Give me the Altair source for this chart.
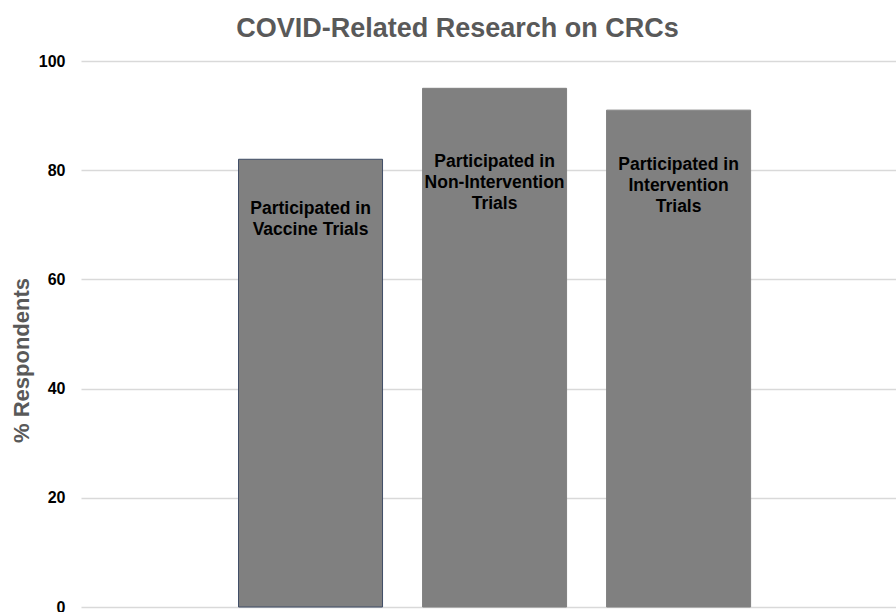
import altair as alt
import pandas as pd

categories = ["Vaccine", "Non-Intervention", "Intervention"]
values = [82, 95, 91]
labels = [
    "Participated in\nVaccine Trials",
    "Participated in\nNon-Intervention\nTrials",
    "Participated in\nIntervention\nTrials",
]
label_top = [74.6, 83.2, 82.6]

df = pd.DataFrame({"cat": categories, "value": values, "label": labels, "ly": label_top})

x = alt.X("cat:N", sort=categories, axis=None,
          scale=alt.Scale(paddingInner=0.2174, paddingOuter=0.823, align=0.52))

y_scale = alt.Scale(domain=[0, 100])

bars = alt.Chart(df).mark_bar(color="#808080", strokeWidth=1).encode(
    x=x,
    y=alt.Y("value:Q", scale=y_scale,
            axis=alt.Axis(title="% Respondents", values=[0, 20, 40, 60, 80, 100],
                          grid=True, gridColor="#d9d9d9", gridWidth=1.5,
                          domain=False, ticks=False,
                          labelFont="Liberation Sans", labelFontSize=16, labelFontWeight="bold",
                          labelColor="#000000", labelPadding=16,
                          titleFont="Liberation Sans", titleFontSize=22, titleFontWeight="bold",
                          titleColor="#595959", titleX=-60, titleY=299, titleBaseline="middle")),
    stroke=alt.condition(alt.datum.cat == "Vaccine", alt.value("#3f4d66"), alt.value("#808080")),
)

text = alt.Chart(df).mark_text(
    font="Liberation Sans", fontSize=17.5, fontWeight="bold", color="#000000",
    align="center", baseline="top", lineBreak="\n", lineHeight=21,
).encode(
    x=x,
    y=alt.Y("ly:Q", scale=y_scale),
    text="label:N",
)

chart = alt.layer(bars, text).properties(
    width=815, height=546,
    title=alt.TitleParams("COVID-Related Research on CRCs", font="Liberation Sans",
                          fontSize=27, fontWeight="bold", color="#595959", dx=-31, offset=10),
    autosize=alt.AutoSizeParams(type="none"),
    padding={"left": 81, "top": 61, "right": 0, "bottom": 5},
).configure_view(stroke=None)

chart.save("out.html", embed_options={"renderer": "svg", "actions": False})
